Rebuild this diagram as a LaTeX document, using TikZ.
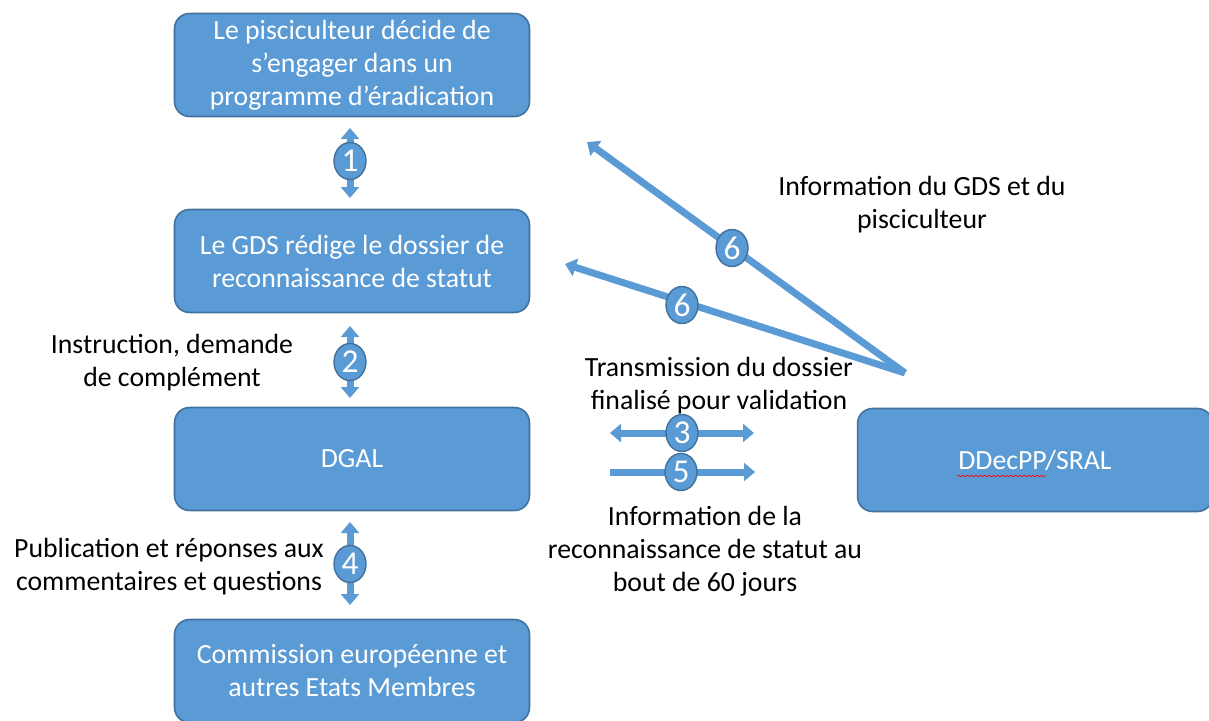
\documentclass[tikz,border=0pt]{standalone}
\usepackage{fontspec}
\setmainfont{Carlito}
\usetikzlibrary{arrows.meta,shapes.geometric,decorations.pathmorphing}
\definecolor{boxblue}{HTML}{5B9BD5}
\definecolor{edgeblue}{HTML}{41719C}

\tikzset{
  etape/.style={draw=edgeblue, line width=0.9pt, fill=boxblue, rounded corners=0.3cm,
    text=white, minimum width=7.1cm, minimum height=2.06cm, align=center,
    font=\fontsize{15.8}{18.8}\selectfont},
  num/.style={ellipse, draw=edgeblue, line width=0.8pt, fill=boxblue, text=white,
    inner sep=0pt, minimum width=0.64cm, minimum height=0.74cm,
    font=\fontsize{19}{19}\selectfont},
  fleche/.style={boxblue, line width=0.14cm, -{Triangle[width=0.36cm,length=0.22cm]}},
  dfleche/.style={boxblue, line width=0.14cm, {Triangle[width=0.36cm,length=0.22cm]}-{Triangle[width=0.36cm,length=0.22cm]}},
  legende/.style={align=center, font=\fontsize{15.8}{18.8}\selectfont}
}

\begin{document}
\begin{tikzpicture}[x=0.02cm,y=-0.02cm]
\useasboundingbox (0,0) rectangle (1209,720);

% les etapes
\node[etape] (pisc) at (352,65) {Le pisciculteur d\'ecide de\\s'engager dans un\\programme d'\'eradication};
\node[etape] (gds) at (352,261) {Le GDS r\'edige le dossier de\\reconnaissance de statut};
\node[etape] (dgal) at (352,459) {DGAL};
\node[etape] (ce) at (352,671) {Commission europ\'eenne et\\autres Etats Membres};
\node[etape] (ddpp) at (1035,460) {DDecPP/SRAL};
\draw[red, decorate, decoration={snake,amplitude=0.4pt,segment length=2.5pt}] (957,476) -- (1046,476);

% extremites des fleches
\coordinate (h1) at (350,128);
\coordinate (b1) at (350,198);
\coordinate (h2) at (350,326);
\coordinate (b2) at (350,398);
\coordinate (h4) at (350,522);
\coordinate (b4) at (350,605);
\coordinate (g3) at (610,433);
\coordinate (d3) at (754,433);
\coordinate (g5) at (610,472);
\coordinate (d5) at (755,472);
\coordinate (src6) at (905,373);
\coordinate (tip6a) at (587,142);
\coordinate (tip6b) at (565,264);

\draw[dfleche] (h1) -- (b1);
\draw[dfleche] (h2) -- (b2);
\draw[dfleche] (h4) -- (b4);
\draw[dfleche] (g3) -- (d3);
\draw[fleche] (g5) -- (d5);
\draw[fleche] (src6) -- (tip6a);
\draw[fleche] (src6) -- (tip6b);

\node[num] (n1) at (350,161) {1};
\node[num] (n2) at (350,362) {2};
\node[num] (n4) at (350,564) {4};
\node[num] (n3) at (682,433) {3};
\node[num] (n5) at (681,472) {5};
\node[num] (n6a) at (732,248) {6};
\node[num] (n6b) at (682,305) {6};

% les textes
\node[legende] (t6) at (922,205) {Information du GDS et du\\pisciculteur};
\node[legende] (t2) at (172,363) {Instruction, demande\\de compl\'ement};
\node[legende] (t3) at (719,386) {Transmission du dossier\\finalis\'e pour validation};
\node[legende] (t5) at (705,551) {Information de la\\reconnaissance de statut au\\bout de 60 jours};
\node[legende] (t4) at (169,567) {Publication et r\'eponses aux\\commentaires et questions};
\end{tikzpicture}
\end{document}
